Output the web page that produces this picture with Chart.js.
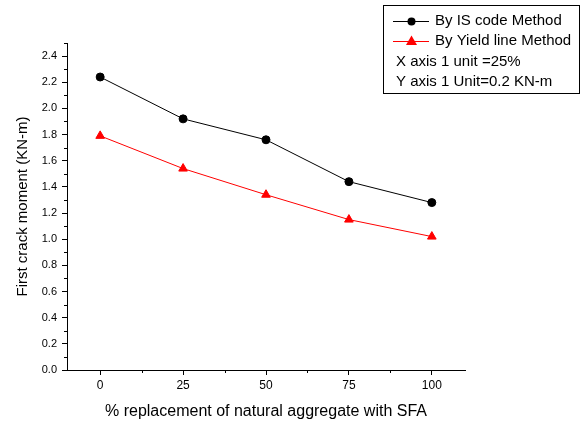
<!DOCTYPE html>
<html>
<head>
<meta charset="utf-8">
<script src="https://cdn.jsdelivr.net/npm/chart.js@4"></script>
<style>
  html, body { margin: 0; padding: 0; background: #fff; }
  #wrap { width: 581px; height: 421px; }
</style>
</head>
<body>
<div id="wrap"><canvas id="momentChart" width="581" height="421"></canvas></div>
<script>
// % replacement of natural aggregate with SFA
var replacement = [0, 25, 50, 75, 100];
var xTickLabels = ['0', '25', '50', '75', '100'];
// first crack moment, KN-m
var isCodeMoment = [2.24, 1.92, 1.76, 1.44, 1.28];
var yieldLineMoment = [1.79, 1.54, 1.34, 1.15, 1.02];
var yTicks = [0, 0.2, 0.4, 0.6, 0.8, 1.0, 1.2, 1.4, 1.6, 1.8, 2.0, 2.2, 2.4];

var FONT = 'Arial, "Liberation Sans", sans-serif';

function toPoints(xs, ys) {
    return xs.map(function (x, i) { return { x: x, y: ys[i] }; });
}

// small ticks between the labelled ones
var minorTicks = {
    id: 'minorTicks',
    afterDraw: function (chart) {
        var ctx = chart.ctx;
        var xs = chart.scales.x, ys = chart.scales.y;
        ctx.save();
        ctx.strokeStyle = '#000';
        ctx.lineWidth = 1;
        ctx.beginPath();
        for (var v = 0.1; v <= 2.5 + 1e-9; v += 0.2) {
            var py = Math.round(ys.getPixelForValue(v)) + 0.5;
            ctx.moveTo(xs.left, py);
            ctx.lineTo(xs.left - 3, py);
        }
        [12.5, 37.5, 62.5, 87.5].forEach(function (v) {
            var px = Math.round(xs.getPixelForValue(v)) + 0.5;
            ctx.moveTo(px, ys.bottom);
            ctx.lineTo(px, ys.bottom + 3);
        });
        ctx.stroke();
        ctx.restore();
    }
};

// boxed legend with the unit notes
var boxLegend = {
    id: 'boxLegend',
    afterDraw: function (chart) {
        var ctx = chart.ctx;
        var left = 383, top = 5, right = 580, bottom = 94;
        ctx.save();
        ctx.fillStyle = '#fff';
        ctx.fillRect(left, top, right - left, bottom - top);
        ctx.strokeStyle = '#000';
        ctx.lineWidth = 1;
        ctx.strokeRect(left + 0.5, top + 0.5, right - left - 1, bottom - top - 1);

        ctx.font = '15px ' + FONT;
        ctx.textBaseline = 'middle';
        ctx.fillStyle = '#000';

        // IS code entry
        ctx.beginPath();
        ctx.moveTo(393, 21.5);
        ctx.lineTo(429, 21.5);
        ctx.stroke();
        ctx.beginPath();
        ctx.arc(411.5, 21.5, 4, 0, Math.PI * 2);
        ctx.fill();
        ctx.fillText('By IS code Method', 435, 21);

        // Yield line entry
        ctx.strokeStyle = '#ff0000';
        ctx.beginPath();
        ctx.moveTo(393, 41.5);
        ctx.lineTo(429, 41.5);
        ctx.stroke();
        ctx.fillStyle = '#ff0000';
        ctx.beginPath();
        ctx.moveTo(411.5, 35.5);
        ctx.lineTo(417, 45);
        ctx.lineTo(406, 45);
        ctx.closePath();
        ctx.fill();
        ctx.fillStyle = '#000';
        ctx.fillText('By Yield line Method', 435, 41);

        ctx.fillText('X axis 1 unit =25%', 396, 62);
        ctx.fillText('Y axis 1 Unit=0.2 KN-m', 396, 82);
        ctx.restore();
    }
};

new Chart(document.getElementById('momentChart'), {
    type: 'line',
    data: {
        datasets: [
            {
                label: 'By IS code Method',
                data: toPoints(replacement, isCodeMoment),
                borderColor: '#000',
                backgroundColor: '#000',
                borderWidth: 1,
                pointStyle: 'circle',
                pointRadius: 4,
                pointHoverRadius: 4
            },
            {
                label: 'By Yield line Method',
                data: toPoints(replacement, yieldLineMoment),
                borderColor: '#ff0000',
                backgroundColor: '#ff0000',
                borderWidth: 1,
                pointStyle: 'triangle',
                pointRadius: 5,
                pointHoverRadius: 5
            }
        ]
    },
    options: {
        responsive: false,
        animation: false,
        layout: { padding: { top: 43, right: 116, left: 14, bottom: 0 } },
        plugins: {
            legend: { display: false },
            tooltip: { enabled: false }
        },
        scales: {
            x: {
                type: 'linear',
                min: -10,
                max: 110,
                afterBuildTicks: function (scale) {
                    scale.ticks = replacement.map(function (v) { return { value: v }; });
                },
                afterFit: function (scale) { scale.height = 51; },
                grid: { display: true, drawOnChartArea: false, drawTicks: true, tickLength: 5, color: '#000' },
                border: { color: '#000', width: 1 },
                ticks: {
                    color: '#000',
                    font: { family: FONT, size: 12 },
                    padding: 3,
                    maxRotation: 0,
                    callback: function (value) {
                        var i = replacement.indexOf(value);
                        return i >= 0 ? xTickLabels[i] : '';
                    }
                },
                title: {
                    display: true,
                    text: '% replacement of natural aggregate with SFA',
                    color: '#000',
                    font: { family: FONT, size: 16 },
                    padding: { top: 5, bottom: 0 }
                }
            },
            y: {
                min: 0,
                max: 2.5,
                afterBuildTicks: function (scale) {
                    scale.ticks = yTicks.map(function (v) { return { value: v }; });
                },
                afterFit: function (scale) { scale.width = 53; },
                grid: { display: true, drawOnChartArea: false, drawTicks: true, tickLength: 5, color: '#000' },
                border: { color: '#000', width: 1 },
                ticks: {
                    color: '#000',
                    font: { family: FONT, size: 11 },
                    padding: 5,
                    callback: function (value) { return value.toFixed(1); }
                },
                title: {
                    display: true,
                    text: 'First crack moment (KN-m)',
                    color: '#000',
                    font: { family: FONT, size: 15 },
                    padding: { top: 0, bottom: 0 }
                }
            }
        }
    },
    plugins: [minorTicks, boxLegend]
});
</script>
</body>
</html>
